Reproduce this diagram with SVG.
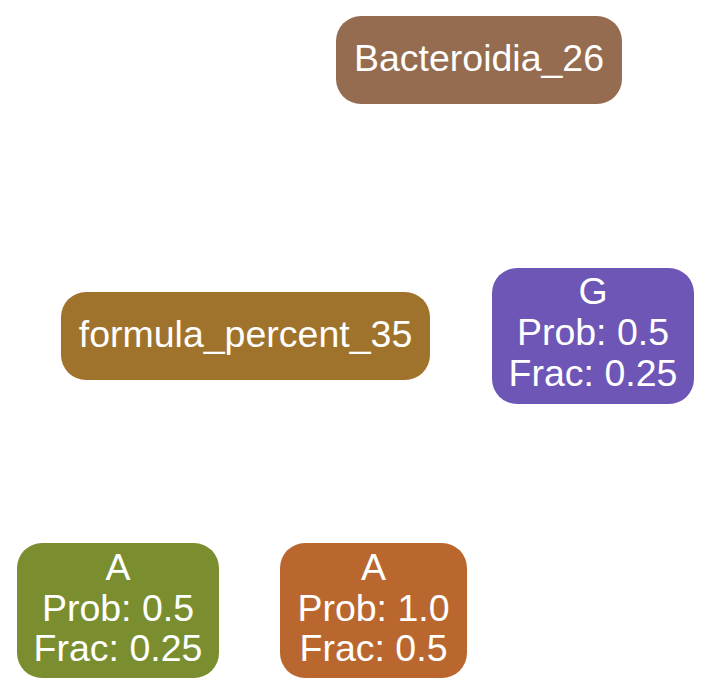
<svg xmlns="http://www.w3.org/2000/svg" width="711" height="696" viewBox="0 0 711 696">
<style>
text{font-family:"Liberation Sans",Arial,Helvetica,sans-serif;font-size:37.5px;fill:#ffffff;text-anchor:middle}
</style>
<rect width="711" height="696" fill="#ffffff"/>
<g id="connectors"></g>
<g id="node-bacteroidia">
<rect x="336" y="16" width="286" height="88" rx="25" ry="25" fill="#956C4F"/>
<text x="479" y="71">Bacteroidia_26</text>
</g>
<g id="node-formula">
<rect x="61" y="292" width="369" height="88" rx="25" ry="25" fill="#A0732C"/>
<text x="245.5" y="347">formula_percent_35</text>
</g>
<g id="node-g">
<rect x="492" y="268" width="202" height="136" rx="25" ry="25" fill="#6D56B6"/>
<text x="593" y="304">G</text>
<text x="593" y="345">Prob: 0.5</text>
<text x="593" y="386">Frac: 0.25</text>
</g>
<g id="node-a1">
<rect x="17" y="543" width="202" height="135" rx="25" ry="25" fill="#7A8E2F"/>
<text x="118" y="580">A</text>
<text x="118" y="621">Prob: 0.5</text>
<text x="118" y="661">Frac: 0.25</text>
</g>
<g id="node-a2">
<rect x="280" y="543" width="187" height="135" rx="25" ry="25" fill="#B9672F"/>
<text x="373.5" y="580">A</text>
<text x="373.5" y="621">Prob: 1.0</text>
<text x="373.5" y="661">Frac: 0.5</text>
</g>
</svg>
